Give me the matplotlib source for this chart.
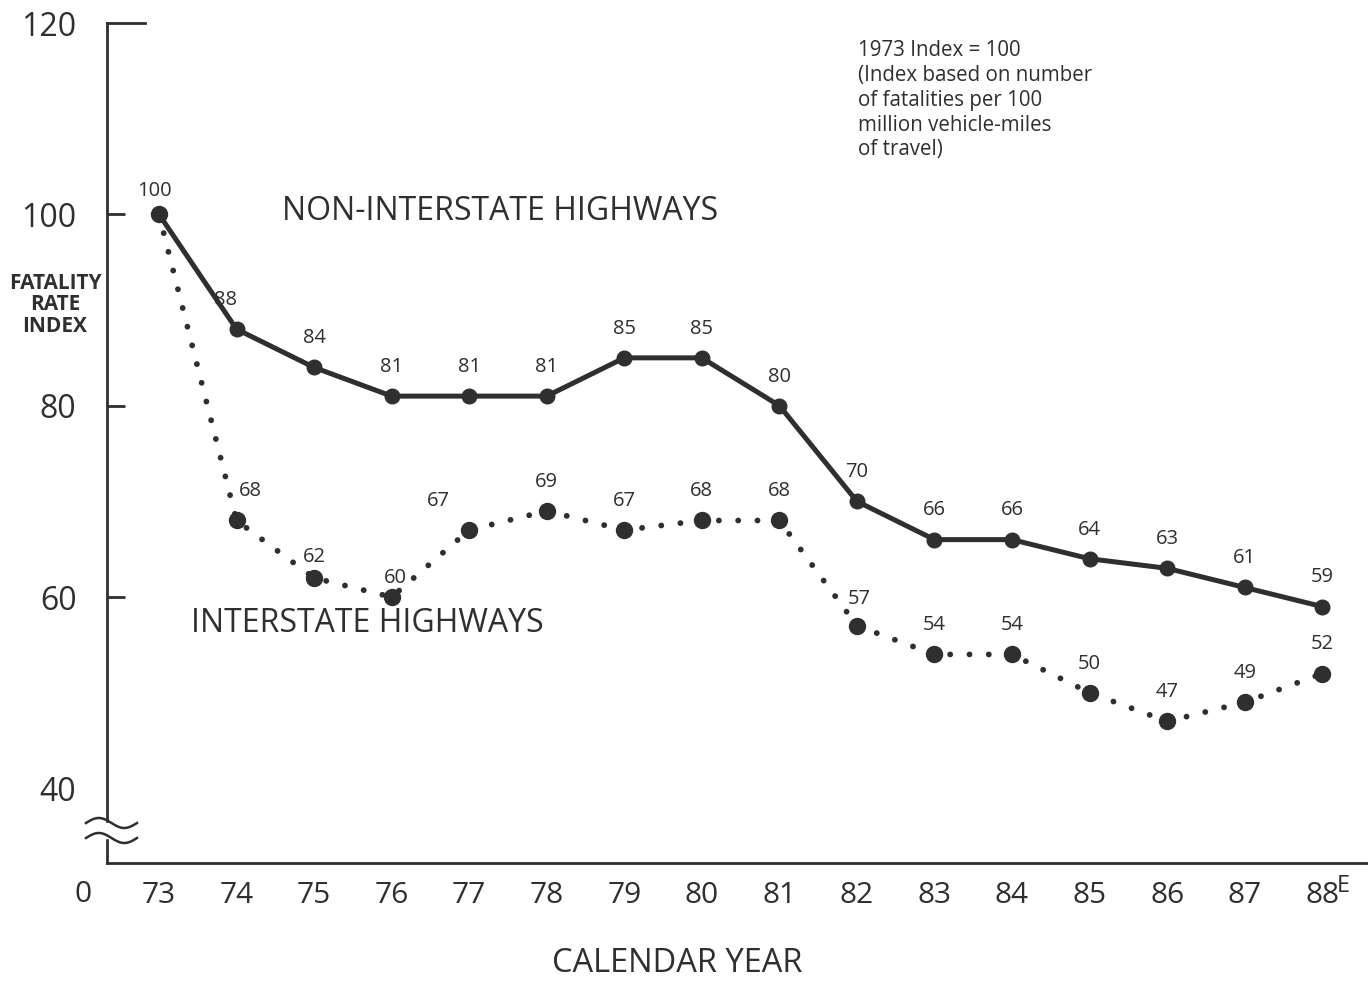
import matplotlib
matplotlib.use("Agg")
import matplotlib.pyplot as plt
import numpy as np
from matplotlib.transforms import blended_transform_factory

plt.rcParams['font.family'] = ['Open Sans', 'DejaVu Sans']

years = [73, 74, 75, 76, 77, 78, 79, 80, 81, 82, 83, 84, 85, 86, 87, 88]
year_labels = ["73", "74", "75", "76", "77", "78", "79", "80", "81", "82",
               "83", "84", "85", "86", "87", "88"]
non_interstate = [100, 88, 84, 81, 81, 81, 85, 85, 80, 70, 66, 66, 64, 63, 61, 59]
interstate = [100, 68, 62, 60, 67, 69, 67, 68, 68, 57, 54, 54, 50, 47, 49, 52]
y_ticks = [40, 60, 80, 100, 120]

INK = "#2f2f2f"

fig = plt.figure(figsize=(13.68, 9.81), dpi=100)
W, H = 1368, 981
ax = fig.add_axes([107 / W, 1 - 863 / H, 1 - 107 / W, (863 - 23) / H])
ax.set_xlim(72.33, 88.59)
ax.set_ylim(32.2, 120)

# series
ax.plot(years, non_interstate, color=INK, lw=3.6, marker='o', ms=10.5,
        solid_joinstyle='round', zorder=3)
ax.plot(years, interstate, color=INK, lw=4.2, linestyle=(0, (0.01, 3.3)),
        dash_capstyle='round', zorder=3)
ax.plot(years, interstate, color=INK, lw=0, marker='o', ms=11.5, zorder=4)

LBL = 14.5
# value labels
ni_dx = {1: -8}
for i, (x, v) in enumerate(zip(years, non_interstate)):
    if i == 0:
        continue
    ax.annotate(str(v), (x, v), xytext=(ni_dx.get(i, 0), 21), textcoords='offset points',
                ha='center', va='center', fontsize=LBL, color=INK)
ax.annotate(str(non_interstate[0]), (years[0], non_interstate[0]), xytext=(-3, 17),
            textcoords='offset points', ha='center', va='center', fontsize=LBL, color=INK)
in_dx = {1: 10, 2: 0, 3: 3, 4: -22, 9: 2}
in_dy = {2: 15, 3: 14, 9: 19}
for i, (x, v) in enumerate(zip(years, interstate)):
    if i == 0:
        continue
    ax.annotate(str(v), (x, v), xytext=(in_dx.get(i, 0), in_dy.get(i, 21)),
                textcoords='offset points', ha='center', va='center', fontsize=LBL, color=INK)

# spines
for s in ['top', 'right']:
    ax.spines[s].set_visible(False)
ax.spines['left'].set_color(INK)
ax.spines['bottom'].set_color(INK)
ax.spines['left'].set_linewidth(2)
ax.spines['bottom'].set_linewidth(2)

ax.set_xticks(years)
ax.set_xticklabels(year_labels, fontsize=21.5, color=INK)
ax.tick_params(axis='x', length=0, pad=13)
ax.set_yticks(y_ticks)
ax.set_yticklabels([str(t) for t in y_ticks], fontsize=23, color=INK)
ax.tick_params(axis='y', direction='in', length=13, width=2, color=INK, pad=22)
ax.yaxis.get_major_ticks()[0].tick1line.set_visible(False)
ax.yaxis.get_major_ticks()[-1].tick1line.set_visible(False)

# top tick at 120 (longer)
tr = blended_transform_factory(fig.transFigure, ax.transData)
ax.plot([107 / W, 145 / W], [120, 120], color=INK, lw=2, transform=tr, clip_on=False)

# axis break
figt = fig.transFigure
xs = np.linspace(86, 137, 60)
fig.add_artist(plt.Rectangle((100 / W, 1 - 838 / H), 15 / W, 15 / H, color='white',
                             transform=figt, zorder=5))
for yc in [823, 838]:
    ys = yc - 5 * np.sin((xs - 86) / 51 * 2 * np.pi)
    fig.add_artist(plt.Line2D(xs / W, 1 - ys / H, color=INK, lw=1.8, zorder=6))

# extra texts
fig.text(83 / W, 1 - 895 / H, "0", fontsize=21.5, color=INK, ha='center', va='center')
fig.text(1337 / W, 1 - 886 / H, "E", fontsize=17, color=INK, ha='left', va='center')
fig.text(55 / W, 1 - 305 / H, "FATALITY\nRATE\nINDEX", fontsize=15, fontweight='bold',
         color=INK, ha='center', va='center', linespacing=1.05)
fig.text(677 / W, 1 - 963 / H, "CALENDAR YEAR", fontsize=23.5, color=INK,
         ha='center', va='center')
fig.text(500 / W, 1 - 211 / H, "NON-INTERSTATE HIGHWAYS", fontsize=23, color=INK,
         ha='center', va='center')
fig.text(367 / W, 1 - 623 / H, "INTERSTATE HIGHWAYS", fontsize=23, color=INK,
         ha='center', va='center')
fig.text(858 / W, 1 - 40 / H,
         "1973 Index = 100\n(Index based on number\nof fatalities per 100\n"
         "million vehicle-miles\nof travel)",
         fontsize=14.8, color=INK, ha='left', va='top', linespacing=1.24)

fig.savefig("out.png", dpi=100)
